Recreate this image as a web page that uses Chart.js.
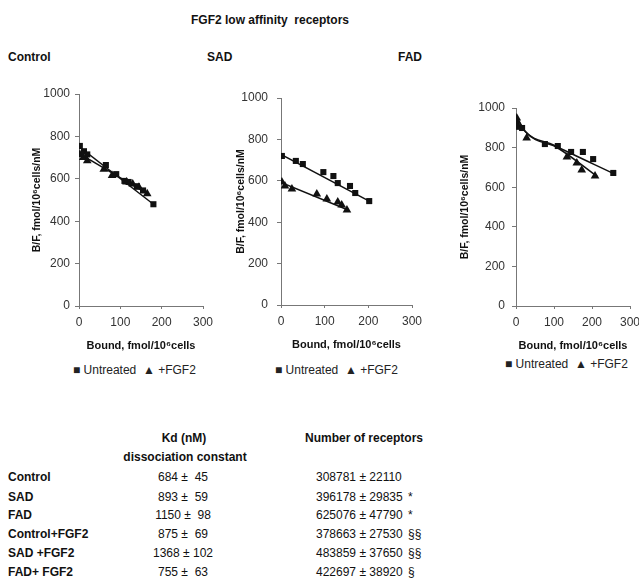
<!DOCTYPE html>
<html lang="en">
<head>
<meta charset="UTF-8">
<title>FGF2 low affinity receptors</title>
<script src="https://cdn.jsdelivr.net/npm/chart.js"></script>
<style>
    body {
        margin: 0;
        width: 639px;
        height: 582px;
        overflow: hidden;
        background: #fff;
        font-family: 'Liberation Sans', Arial, sans-serif;
        color: #111;
        position: relative;
    }
    .t {
        position: absolute;
        white-space: pre;
        font-size: 12px;
        line-height: 14px;
    }
    .b { font-weight: bold; }
    .c { transform: translateX(-50%); }
    canvas { position: absolute; }
    .legend {
        position: absolute;
        font-size: 12px;
        white-space: pre;
        color: #222;
    }
</style>
</head>
<body>
<div class="t b c" style="left:270px; top:13px;">FGF2 low affinity  receptors</div>
<div class="t b" style="left:8px; top:50px;">Control</div>
<div class="t b" style="left:207px; top:50px;">SAD</div>
<div class="t b" style="left:398px; top:50px;">FAD</div>

<canvas id="ctrlChart" width="220" height="286" style="left:0px; top:70px;"></canvas>
<canvas id="sadChart" width="232" height="285" style="left:200px; top:70px;"></canvas>
<canvas id="fadChart" width="240" height="286" style="left:410px; top:70px;"></canvas>

<div class="legend" style="left:73px; top:363px;">■ Untreated  ▲ +FGF2</div>
<div class="legend" style="left:275px; top:363px;">■ Untreated  ▲ +FGF2</div>
<div class="legend" style="left:505px; top:357px;">■ Untreated  ▲ +FGF2</div>

<div id="table"></div>

<script>
// Control panel
const ctrlUntreatedX = [2, 12, 20, 65, 90, 110, 120, 140, 155, 180];
const ctrlUntreatedY = [755, 730, 715, 665, 622, 590, 585, 565, 545, 480];
const ctrlFgf2X = [2, 10, 20, 60, 80, 115, 130, 145, 165];
const ctrlFgf2Y = [715, 700, 685, 645, 615, 585, 575, 560, 530];
const ctrlUntreatedFitX = [0, 180];
const ctrlUntreatedFitY = [752, 480];
const ctrlFgf2FitX = [0, 165];
const ctrlFgf2FitY = [720, 530];

// SAD panel
const sadUntreatedX = [2, 34, 50, 97, 120, 130, 158, 170, 202];
const sadUntreatedY = [720, 696, 681, 642, 623, 589, 575, 541, 502];
const sadFgf2X = [2, 9, 25, 82, 105, 130, 139, 151];
const sadFgf2Y = [594, 575, 560, 536, 512, 498, 483, 459];
const sadUntreatedFitX = [0, 202];
const sadUntreatedFitY = [728, 502];
const sadFgf2FitX = [0, 155];
const sadFgf2FitY = [592, 458];

// FAD panel
const fadUntreatedX = [0, 2, 16, 76, 110, 145, 176, 203, 256];
const fadUntreatedY = [924, 905, 899, 818, 808, 778, 778, 742, 672];
const fadFgf2X = [2, 3, 28, 134, 160, 173, 208];
const fadFgf2Y = [949, 914, 848, 753, 722, 687, 657];
const fadUntreatedFitX = [0, 20, 100, 258];
const fadUntreatedFitY = [962, 890, 812, 668];
const fadFgf2FitX = [0, 25, 110, 215];
const fadFgf2FitY = [965, 880, 798, 652];

const yTicks = [0, 200, 400, 600, 800, 1000];
const xTicks = [0, 100, 200, 300];

// table
const rowNames = ["Control", "SAD", "FAD", "Control+FGF2", "SAD +FGF2", "FAD+ FGF2"];
const kdValues = ["684 ±  45", "893 ±  59", "1150 ±  98", "875 ±  69", "1368 ± 102", "755 ±  63"];
const receptorValues = ["308781 ± 22110", "396178 ± 29835", "625076 ± 47790", "378663 ± 27530", "483859 ± 37650", "422697 ± 38920"];
const receptorMarks = ["", "*", "*", "§§", "§§", "§"];

Chart.defaults.font.family = "'Liberation Sans', Arial, 'DejaVu Sans', sans-serif";
Chart.defaults.animation = false;

function pts(xs, ys) {
    return xs.map(function (x, i) { return { x: x, y: ys[i] }; });
}

function makeChart(id, d, lay) {
    const ctx = document.getElementById(id).getContext("2d");
    const fitLine = {
        type: "line", showLine: true, pointRadius: 0, borderColor: "#111",
        borderWidth: 1.5, fill: false, tension: lay.tension, cubicInterpolationMode: lay.tension ? "monotone" : "default"
    };
    return new Chart(ctx, {
        type: "scatter",
        data: {
            datasets: [
                Object.assign({ data: pts(d.ufx, d.ufy) }, fitLine),
                Object.assign({ data: pts(d.ffx, d.ffy) }, fitLine),
                { data: pts(d.ux, d.uy), pointStyle: "rect", pointRadius: 4.3, backgroundColor: "#111", borderColor: "#111", borderWidth: 0 },
                { data: pts(d.fx, d.fy), pointStyle: "triangle", pointRadius: 5, backgroundColor: "#111", borderColor: "#111", borderWidth: 0 }
            ]
        },
        options: {
            responsive: false,
            layout: { padding: { left: 0, right: lay.padRight, top: lay.padTop, bottom: 0 } },
            plugins: { legend: { display: false }, tooltip: { enabled: false } },
            scales: {
                x: {
                    type: "linear", min: 0, max: 300,
                    afterBuildTicks: function (s) { s.ticks = xTicks.map(function (v) { return { value: v }; }); },
                    afterFit: function (s) { s.height = 50; },
                    grid: { drawOnChartArea: false, drawTicks: true, tickLength: 3, color: "#777" },
                    border: { color: "#777", width: 1 },
                    ticks: { color: "#333", font: { size: 12 }, padding: 6, maxRotation: 0, callback: function (v) { return String(v); } },
                    title: { display: true, text: "Bound, fmol/10⁶cells", color: "#111", font: { size: 11, weight: "bold" }, padding: { top: 0, bottom: 3 } }
                },
                y: {
                    type: "linear", min: 0, max: 1000,
                    afterBuildTicks: function (s) { s.ticks = yTicks.map(function (v) { return { value: v }; }); },
                    afterFit: function (s) { s.width = lay.yWidth; },
                    grid: { drawOnChartArea: false, drawTicks: true, tickLength: 4, color: "#777" },
                    border: { color: "#777", width: 1 },
                    ticks: { color: "#333", font: { size: 12 }, padding: lay.tickPad, callback: function (v) { return String(v); } },
                    title: { display: true, text: "B/F, fmol/10⁶cells/nM", color: "#111", font: { size: 10.5, weight: "bold" }, padding: { top: lay.titlePad, bottom: 0 } }
                }
            }
        }
    });
}

makeChart("ctrlChart", {
    ux: ctrlUntreatedX, uy: ctrlUntreatedY, fx: ctrlFgf2X, fy: ctrlFgf2Y,
    ufx: ctrlUntreatedFitX, ufy: ctrlUntreatedFitY, ffx: ctrlFgf2FitX, ffy: ctrlFgf2FitY
}, { yWidth: 79, padRight: 17, padTop: 24, titlePad: 31, tickPad: 5, tension: 0 });

makeChart("sadChart", {
    ux: sadUntreatedX, uy: sadUntreatedY, fx: sadFgf2X, fy: sadFgf2Y,
    ufx: sadUntreatedFitX, ufy: sadUntreatedFitY, ffx: sadFgf2FitX, ffy: sadFgf2FitY
}, { yWidth: 81, padRight: 20, padTop: 28, titlePad: 35, tickPad: 9, tension: 0 });

makeChart("fadChart", {
    ux: fadUntreatedX, uy: fadUntreatedY, fx: fadFgf2X, fy: fadFgf2Y,
    ufx: fadUntreatedFitX, ufy: fadUntreatedFitY, ffx: fadFgf2FitX, ffy: fadFgf2FitY
}, { yWidth: 106, padRight: 20, padTop: 38, titlePad: 49, tickPad: 7, tension: 0.4 });

// results table
const table = document.getElementById("table");
function addText(text, left, top, cls) {
    const el = document.createElement("div");
    el.className = "t " + (cls || "");
    el.style.left = left + "px";
    el.style.top = top + "px";
    el.textContent = text;
    table.appendChild(el);
}
addText("Kd (nM)", 184, 431, "b c");
addText("dissociation constant", 185, 450, "b c");
addText("Number of receptors", 364, 431, "b c");
const rowTops = [470, 490, 508, 527, 546, 565];
rowNames.forEach(function (name, i) {
    addText(name, 8, rowTops[i], "b");
    addText(kdValues[i], 183, rowTops[i], "c");
    addText(receptorValues[i], 316, rowTops[i], "");
    addText(receptorMarks[i], 408, rowTops[i], "");
});
</script>
</body>
</html>
